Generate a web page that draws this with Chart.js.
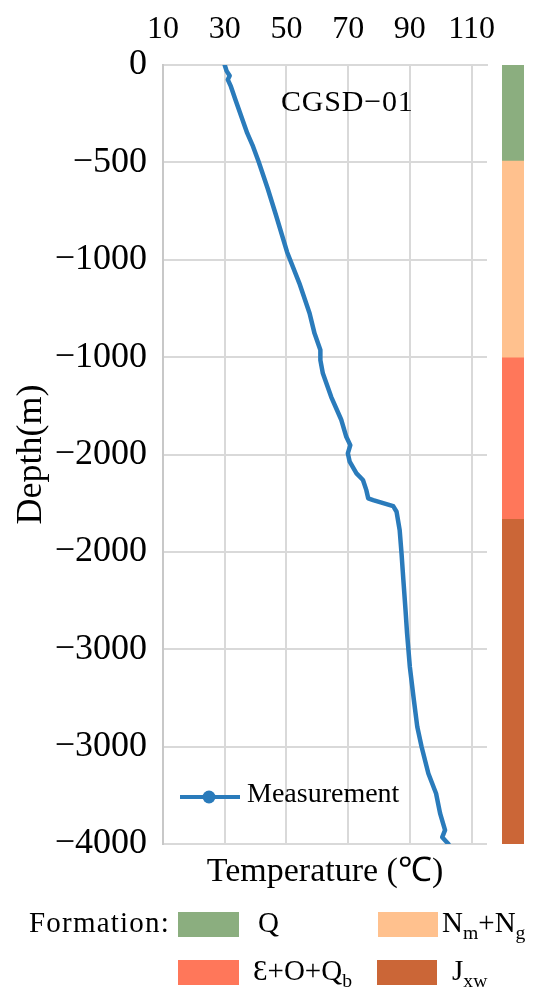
<!DOCTYPE html>
<html>
<head>
<meta charset="utf-8">
<script src="https://cdn.jsdelivr.net/npm/chart.js@4.4.1/dist/chart.umd.min.js"></script>
<style>
  body { margin: 0; background: #fff; }
  #wrap { position: relative; width: 550px; height: 1006px; overflow: hidden;
          font-family: 'Liberation Serif', 'Times New Roman', serif; color: #000; }
  #wrap canvas { position: absolute; }
  .txt { position: absolute; white-space: nowrap; line-height: 1; }
  .sw { position: absolute; height: 25px; }
  sub { font-size: 0.68em; vertical-align: -0.36em; line-height: 0; }
</style>
</head>
<body>
<div id="wrap">
  <canvas id="tempChart" width="550" height="1006" style="left:0;top:0"></canvas>
  <canvas id="stripChart" width="22" height="779" style="left:502px;top:65px"></canvas>

  <div class="txt" style="left:281px;top:86px;font-size:30px;letter-spacing:0.8px">CGSD−01</div>

  <!-- series legend -->
  <svg style="position:absolute;left:180px;top:787px" width="60" height="20">
    <line id="legLine" x1="0" y1="10" x2="60" y2="10" stroke-width="4"></line>
    <circle id="legDot" cx="29" cy="10" r="6.5"></circle>
  </svg>
  <div class="txt" style="left:247px;top:779px;font-size:28px">Measurement</div>

  <!-- formation legend -->
  <div class="txt" style="left:29px;top:908px;font-size:29px;letter-spacing:1.2px">Formation:</div>
  <div class="sw" data-f="0" style="left:178px;top:912px;width:61px"></div>
  <div class="txt" style="left:258px;top:908px;font-size:29px">Q</div>
  <div class="sw" data-f="1" style="left:378px;top:912px;width:60px"></div>
  <div class="txt" style="left:442px;top:908px;font-size:29px">N<sub>m</sub>+N<sub>g</sub></div>
  <div class="sw" data-f="2" style="left:178px;top:960px;width:61px"></div>
  <div class="txt" style="left:253px;top:956px;font-size:29px">Ɛ+O+Q<sub>b</sub></div>
  <div class="sw" data-f="3" style="left:377px;top:960px;width:60px"></div>
  <div class="txt" style="left:452px;top:956px;font-size:29px">J<sub>xw</sub></div>
</div>

<script>
const temperature = [30.0, 30.6, 31.6, 31.0, 32.0, 33.5, 35.5, 37.3, 39.0, 41.0,
                     43.9, 46.6, 50.2, 54.2, 57.5, 59.1, 61.0, 61.0, 61.8, 64.5,
                     67.8, 69.4, 70.7, 69.9, 70.5, 72.7, 74.8, 75.9, 76.5, 78.1,
                     84.6, 85.7, 86.7, 87.3, 87.9, 88.6, 89.1, 90.0, 91.3, 92.4,
                     93.8, 96.0, 98.5, 99.8, 101.4, 100.5, 102.5];
const depth = [0, -30, -55, -75, -110, -180, -270, -350, -411, -497,
               -633, -770, -960, -1121, -1275, -1378, -1464, -1515, -1583, -1704,
               -1823, -1909, -1952, -1994, -2037, -2097, -2131, -2183, -2225, -2234,
               -2265, -2294, -2388, -2508, -2645, -2800, -2919, -3091, -3261, -3398,
               -3501, -3638, -3741, -3843, -3929, -3965, -4000];

// Axis ticks as printed on the figure
const tempTicks = [10, 30, 50, 70, 90, 110];
const depthTicks = [0, -500, -1000, -1500, -2000, -2500, -3000, -3500, -4000];
const depthLabels = ['0', '−500', '−1000', '−1000', '−2000', '−2000', '−3000', '−3000', '−4000'];

// Formation column
const formationNames = ['Q', 'Nm+Ng', 'Ɛ+O+Qb', 'Jxw'];
const formationTop = [0, -490, -1500, -2330];
const formationBottom = [-490, -1500, -2330, -4000];
const formationColors = ['#8bae7f', '#ffc18e', '#ff775a', '#cb6637'];

const LINE_BLUE = '#2a7bbb';
const GRID = '#d9d9d9';
const FONT = "'Liberation Serif', 'Times New Roman', serif";

Chart.defaults.font.family = FONT;
Chart.defaults.color = '#000';

document.getElementById('legLine').setAttribute('stroke', LINE_BLUE);
document.getElementById('legDot').setAttribute('fill', LINE_BLUE);
document.querySelectorAll('.sw').forEach(el => {
    el.style.background = formationColors[+el.dataset.f];
});

new Chart(document.getElementById('tempChart'), {
    type: 'line',
    data: {
        datasets: [{
            label: 'Measurement',
            data: temperature.map((t, i) => ({ x: t, y: depth[i] })),
            borderColor: LINE_BLUE,
            borderWidth: 4.5,
            borderJoinStyle: 'round',
            borderCapStyle: 'round',
            pointRadius: 0,
            tension: 0,
            fill: false,
            xAxisID: 'x',
            yAxisID: 'y'
        }]
    },
    options: {
        responsive: false,
        animation: false,
        devicePixelRatio: 1,
        layout: { padding: { left: 0, right: 63, top: 0, bottom: 114 } },
        plugins: { legend: { display: false }, tooltip: { enabled: false } },
        scales: {
            x: {
                type: 'linear',
                position: 'top',
                min: 10,
                max: 115,
                afterBuildTicks: s => { s.ticks = tempTicks.map(v => ({ value: v })); },
                afterFit: s => { s.height = 65; },
                ticks: { padding: 16, font: { size: 32 }, color: '#000', autoSkip: false, maxRotation: 0 },
                grid: { color: GRID, lineWidth: 2, drawTicks: false },
                border: { color: GRID, width: 2 }
            },
            x2: {
                type: 'linear',
                position: 'bottom',
                afterFit: s => { s.height = 48; },
                ticks: { display: false },
                grid: { display: false, drawTicks: false },
                border: { display: false },
                title: { display: true, text: 'Temperature (℃)', font: { size: 34 }, color: '#000', padding: 0 }
            },
            y: {
                type: 'linear',
                min: -4000,
                max: 0,
                afterBuildTicks: s => { s.ticks = depthTicks.map(v => ({ value: v })); },
                afterFit: s => { s.width = 163; },
                ticks: {
                    padding: 16,
                    font: { size: 36 },
                    color: '#000',
                    autoSkip: false,
                    callback: v => depthLabels[depthTicks.indexOf(v)]
                },
                grid: { color: GRID, lineWidth: 2, drawTicks: false },
                border: { color: '#c8c8c8', width: 2 },
                title: { display: true, text: 'Depth(m)', font: { size: 36 }, color: '#000', padding: { top: 10, bottom: 0 } }
            }
        }
    }
});

new Chart(document.getElementById('stripChart'), {
    type: 'bar',
    data: {
        labels: ['Formation'],
        datasets: formationNames.map((name, i) => ({
            label: name,
            data: [[formationBottom[i], formationTop[i]]],
            backgroundColor: formationColors[i],
            borderWidth: 0,
            grouped: false,
            barPercentage: 1,
            categoryPercentage: 1
        }))
    },
    options: {
        responsive: false,
        animation: false,
        devicePixelRatio: 1,
        layout: { padding: 0 },
        plugins: { legend: { display: false }, tooltip: { enabled: false } },
        scales: {
            x: { display: false },
            y: { display: false, min: -4000, max: 0 }
        }
    }
});
</script>
</body>
</html>
